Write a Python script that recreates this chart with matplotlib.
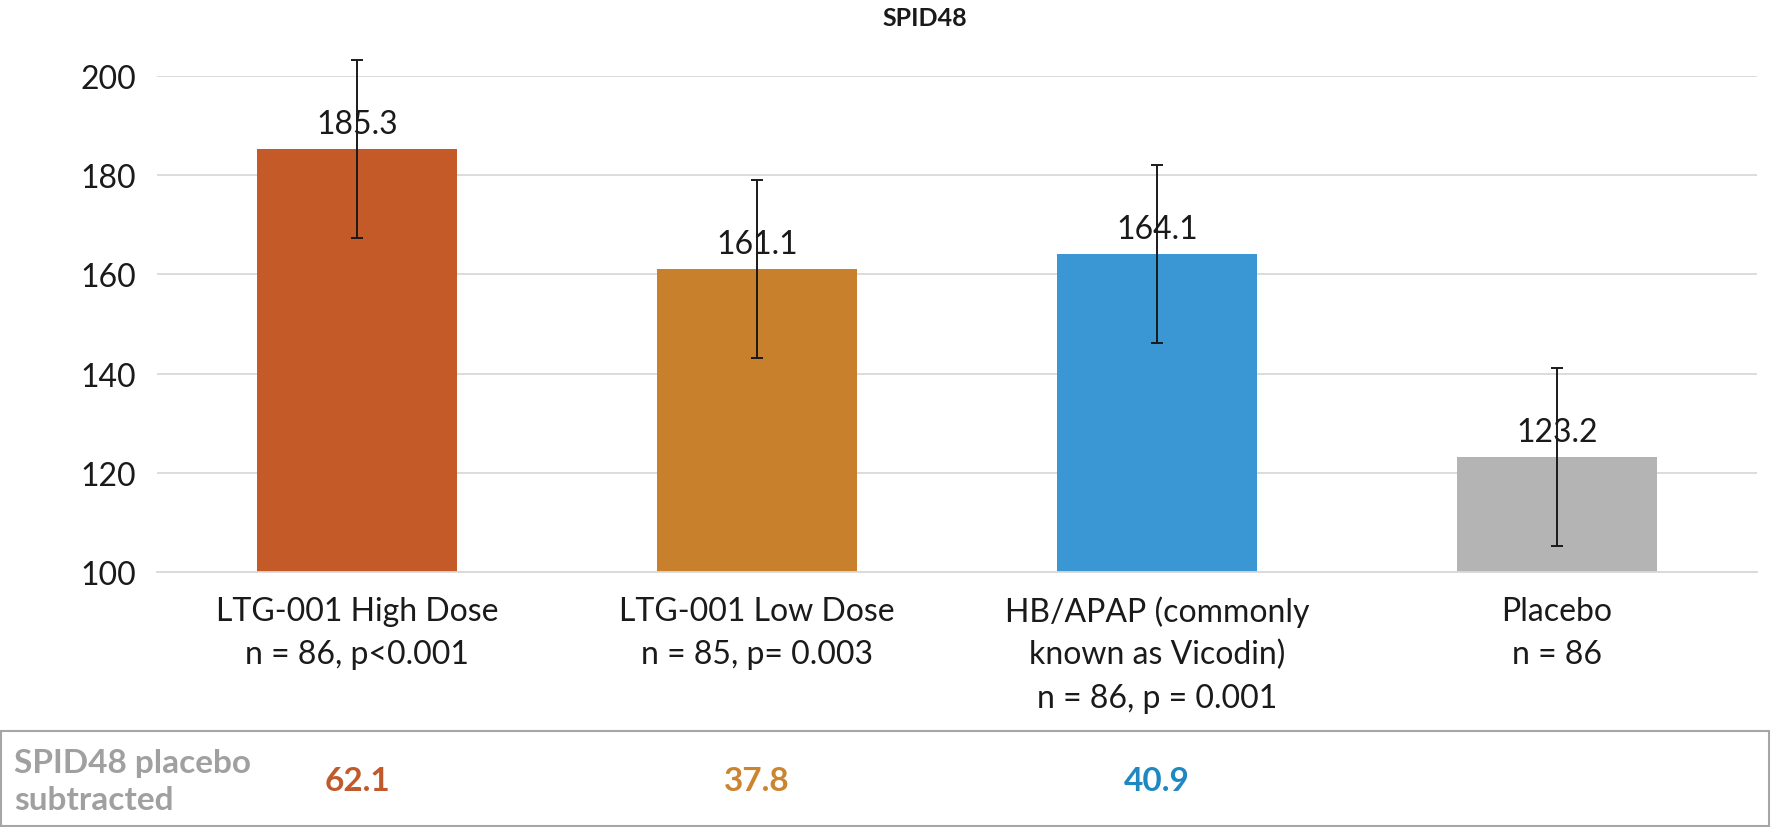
import matplotlib
matplotlib.use("Agg")
import matplotlib.pyplot as plt
from matplotlib.patches import Rectangle
import matplotlib.transforms as mtransforms

plt.rcParams['font.family'] = ['Lato', 'DejaVu Sans']

title = "SPID48"
categories = ["LTG-001 High Dose\nn = 86, p<0.001",
              "LTG-001 Low Dose\nn = 85, p= 0.003",
              "HB/APAP (commonly\nknown as Vicodin)\nn = 86, p = 0.001",
              "Placebo\nn = 86"]
values = [185.3, 161.1, 164.1, 123.2]
errors = [18.0, 18.0, 18.0, 18.0]
bar_colors = ["#C45A28", "#C8802D", "#3A97D3", "#B4B4B4"]
yticks = [100, 120, 140, 160, 180, 200]
table_label = "SPID48 placebo\nsubtracted"
subtracted = ["62.1", "37.8", "40.9", ""]
subtracted_colors = ["#C05A2C", "#CC852F", "#1F88C2", "#000000"]

W, H = 1771, 828
fig = plt.figure(figsize=(W / 100, H / 100), dpi=100)
ax = fig.add_axes([157 / W, 1 - 573 / H, (1757 - 157) / W, (573 - 77) / H])

x = list(range(len(values)))
ax.bar(x, values, width=0.5, color=bar_colors, zorder=2, bottom=0)
ax.errorbar(x, values, yerr=errors, fmt='none', ecolor='#1a1a1a', elinewidth=1.4,
            capsize=4, capthick=1.4, zorder=3, clip_on=False)
for xi, v in zip(x, values):
    ax.annotate(f"{v:.1f}", (xi, v), xytext=(0, 7), textcoords='offset points',
                ha='center', va='bottom', fontsize=23, color='#1a1a1a', zorder=4)

ax.set_xlim(-0.5, len(values) - 0.5)
ax.set_ylim(100, 200)
ax.set_yticks(yticks)
ax.set_yticklabels([str(t) for t in yticks], fontsize=23, color='#1a1a1a')
ax.tick_params(axis='y', length=0, pad=15)
ax.tick_params(axis='x', length=0)
ax.set_xticks([])
ax.yaxis.grid(True, color='#D9D9D9', linewidth=1.3, zorder=0)
ax.set_axisbelow(True)
for s in ['top', 'right', 'left']:
    ax.spines[s].set_visible(False)
ax.spines['bottom'].set_color('#D9D9D9')
ax.spines['bottom'].set_linewidth(1.3)

# category labels (line by line)
trans = mtransforms.blended_transform_factory(ax.transData, fig.transFigure)
line_y = [612, 655, 699]
for xi, lab in zip(x, categories):
    for i, line in enumerate(lab.split("\n")):
        ax.text(xi, 1 - line_y[i] / H, line, transform=trans, ha='center', va='center',
                fontsize=23, color='#1a1a1a')

fig.suptitle(title, x=925 / W, y=1 - 18 / H, va='center', fontsize=18,
             fontweight='bold', color='#1a1a1a')

# table
fig.patches.append(Rectangle((1 / W, 1 - 827 / H), 1768 / W, 95 / H, transform=fig.transFigure,
                             fill=False, edgecolor='#A6A6A6', linewidth=1.5))
lab_lines = table_label.split("\n")
fig.text(14 / W, 1 - 764 / H, lab_lines[0], ha='left', va='center', fontsize=24,
         fontweight='bold', color='#A0A0A0')
fig.text(14 / W, 1 - 801 / H, lab_lines[1], ha='left', va='center', fontsize=24,
         fontweight='bold', color='#A0A0A0')
for xi, s, c in zip(x, subtracted, subtracted_colors):
    if s:
        ax.text(xi, 1 - 782 / H, s, transform=trans, ha='center', va='center',
                fontsize=24, fontweight='bold', color=c)

fig.savefig("out.png", dpi=100)
